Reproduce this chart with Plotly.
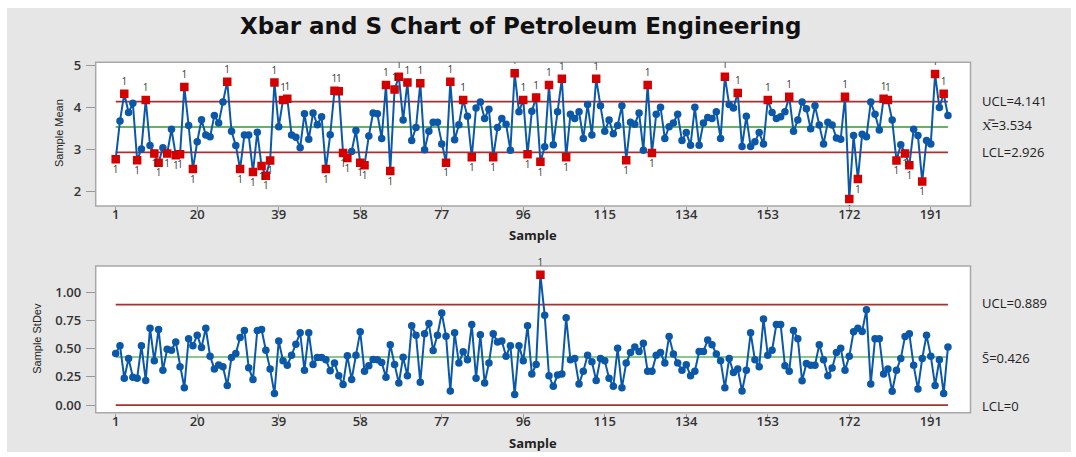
import plotly.graph_objects as go

W, H = 1076, 457

samples = list(range(1, 196))
sample_means = [
    2.76, 3.68, 4.33, 3.88, 4.10, 2.74, 3.01, 4.18, 3.09, 2.90,
    2.68, 3.04, 2.90, 3.48, 2.86, 2.88, 4.49, 3.57, 2.53, 3.18,
    3.71, 3.34, 3.30, 3.81, 3.63, 4.13, 4.62, 3.43, 3.09, 2.53,
    3.34, 3.34, 2.46, 3.41, 2.60, 2.37, 2.73, 4.60, 3.54, 4.18,
    4.21, 3.34, 3.29, 3.04, 3.85, 3.24, 3.87, 3.59, 3.78, 2.53,
    3.35, 4.40, 4.39, 2.91, 2.79, 2.95, 3.45, 2.68, 2.62, 3.32,
    3.87, 3.85, 3.26, 4.54, 2.48, 4.43, 4.74, 3.70, 4.60, 3.21,
    3.52, 4.58, 2.99, 3.43, 3.65, 3.65, 3.13, 2.68, 4.62, 3.23,
    3.59, 4.18, 3.79, 2.81, 3.99, 4.13, 3.74, 3.96, 2.81, 3.52,
    3.74, 3.60, 2.98, 4.82, 3.90, 4.18, 2.88, 3.91, 4.24, 2.70,
    3.06, 4.54, 3.11, 3.90, 4.69, 2.81, 3.84, 3.74, 3.90, 3.26,
    4.07, 3.34, 4.69, 4.04, 3.43, 3.70, 3.37, 3.57, 4.04, 2.74,
    3.65, 3.60, 3.87, 2.98, 4.54, 2.91, 3.84, 4.01, 3.26, 3.54,
    3.63, 3.84, 3.21, 3.40, 3.10, 4.01, 3.10, 3.63, 3.76, 3.74,
    3.90, 3.26, 4.74, 4.07, 3.99, 4.35, 3.07, 3.79, 3.07, 3.18,
    3.40, 3.13, 4.18, 3.88, 3.74, 3.78, 3.90, 4.26, 3.43, 3.70,
    4.13, 3.97, 3.49, 4.04, 3.58, 3.13, 3.65, 3.58, 3.27, 3.24,
    4.26, 1.81, 3.33, 2.29, 3.36, 3.30, 4.13, 3.84, 3.46, 4.21,
    4.18, 3.70, 2.73, 3.11, 2.90, 2.62, 3.48, 3.33, 2.23, 3.21,
    3.13, 4.80, 4.00, 4.33, 3.81,
]
sample_stdevs = [
    0.456, 0.526, 0.238, 0.413, 0.247, 0.238, 0.526, 0.218, 0.680, 0.392,
    0.669, 0.308, 0.494, 0.485, 0.558, 0.340, 0.154, 0.587, 0.526, 0.619,
    0.509, 0.680, 0.433, 0.320, 0.355, 0.340, 0.174, 0.422, 0.456, 0.599,
    0.660, 0.331, 0.227, 0.660, 0.669, 0.485, 0.320, 0.102, 0.567, 0.392,
    0.352, 0.442, 0.538, 0.640, 0.308, 0.640, 0.360, 0.422, 0.422, 0.401,
    0.305, 0.372, 0.259, 0.183, 0.436, 0.227, 0.442, 0.648, 0.299, 0.349,
    0.404, 0.401, 0.378, 0.247, 0.535, 0.360, 0.195, 0.424, 0.259, 0.701,
    0.619, 0.203, 0.631, 0.721, 0.483, 0.619, 0.814, 0.610, 0.125, 0.640,
    0.372, 0.471, 0.401, 0.712, 0.238, 0.622, 0.195, 0.372, 0.631, 0.558,
    0.567, 0.433, 0.526, 0.093, 0.526, 0.392, 0.701, 0.276, 0.360, 1.154,
    0.794, 0.259, 0.166, 0.267, 0.276, 0.773, 0.401, 0.413, 0.186, 0.299,
    0.442, 0.384, 0.218, 0.413, 0.392, 0.238, 0.166, 0.503, 0.154, 0.372,
    0.465, 0.515, 0.474, 0.547, 0.299, 0.299, 0.442, 0.465, 0.372, 0.608,
    0.453, 0.372, 0.308, 0.358, 0.259, 0.299, 0.474, 0.474, 0.576, 0.535,
    0.453, 0.392, 0.154, 0.413, 0.288, 0.320, 0.125, 0.308, 0.640, 0.401,
    0.340, 0.762, 0.442, 0.485, 0.712, 0.712, 0.349, 0.299, 0.660, 0.587,
    0.215, 0.369, 0.352, 0.352, 0.535, 0.401, 0.259, 0.328, 0.465, 0.503,
    0.308, 0.433, 0.648, 0.680, 0.651, 0.843, 0.186, 0.587, 0.587, 0.276,
    0.320, 0.122, 0.308, 0.413, 0.608, 0.631, 0.352, 0.142, 0.413, 0.619,
    0.433, 0.174, 0.401, 0.102, 0.515,
]
x_ucl, x_cl, x_lcl = 4.141, 3.534, 2.926
s_ucl, s_cl, s_lcl = 0.889, 0.426, 0.0
x_tick_vals = [1, 20, 39, 58, 77, 96, 115, 134, 153, 172, 191]
mean_tick_vals = [2, 3, 4, 5]
sd_tick_vals = [0.0, 0.25, 0.5, 0.75, 1.0]
sd_tick_text = ["0.00", "0.25", "0.50", "0.75", "1.00"]


def fx(px):
    return px / W


def fy(py):
    return 1 - py / H


BLUE = "#0b58a8"
RED = "#d40000"
LIMIT = "#a83030"
GREEN1 = "#2e9e2e"
GREEN2 = "#66b366"
FONT = "Open Sans"

fig = go.Figure()
label_traces = []


def add_chart(vals, ucl, cl, lcl, xa, ya, green):
    n_first, n_last = samples[0], samples[-1]
    for v, c in ((ucl, LIMIT), (lcl, LIMIT), (cl, green)):
        fig.add_trace(go.Scatter(x=[n_first, n_last], y=[v, v], mode="lines",
                                 line=dict(color=c, width=1.6), hoverinfo="skip",
                                 xaxis=xa, yaxis=ya, showlegend=False))
    fig.add_trace(go.Scatter(x=samples, y=vals, mode="lines+markers",
                             line=dict(color=BLUE, width=2),
                             marker=dict(symbol="circle", size=7.5, color=BLUE),
                             xaxis=xa, yaxis=ya, showlegend=False))
    up = [(s, v) for s, v in zip(samples, vals) if v > ucl]
    lo = [(s, v) for s, v in zip(samples, vals) if v < lcl]
    for pts, pos in ((up, "top center"), (lo, "bottom center")):
        if not pts:
            continue
        xs = [p[0] for p in pts]
        ys = [p[1] for p in pts]
        fig.add_trace(go.Scatter(x=xs, y=ys, mode="markers",
                                 marker=dict(symbol="square", size=8.5, color=RED),
                                 xaxis=xa, yaxis=ya, showlegend=False))
        label_traces.append(go.Scatter(x=xs, y=ys, mode="markers+text", text=["1"] * len(pts),
                                       textposition=pos,
                                       marker=dict(symbol="square", size=8.5,
                                                   color="rgba(0,0,0,0)"),
                                       textfont=dict(family=FONT, size=10, color="#3a3a3a"),
                                       hoverinfo="skip", cliponaxis=(xa == "x"),
                                       xaxis=xa, yaxis=ya, showlegend=False))


add_chart(sample_means, x_ucl, x_cl, x_lcl, "x", "y", GREEN1)
add_chart(sample_stdevs, s_ucl, s_cl, s_lcl, "x2", "y2", GREEN2)
for t in label_traces:
    fig.add_trace(t)

# plot frames (page pixel coordinates)
top_box = (95.7, 57, 970.5, 203)
bot_box = (95.7, 264, 970.5, 413)

shapes = [
    dict(type="rect", xref="paper", yref="paper", x0=fx(7), x1=fx(1071), y0=fy(453), y1=fy(2),
         fillcolor="#e6e6e6", line=dict(width=0), layer="below"),
]
for (l, t, r, b) in (top_box, bot_box):
    shapes.append(dict(type="rect", xref="paper", yref="paper", x0=fx(l), x1=fx(r),
                       y0=fy(b), y1=fy(t), fillcolor="white",
                       line=dict(color="#a8a8a8", width=1.5), layer="below"))

tickfont = dict(family=FONT, size=13, color="#333", weight=600)
xrange_ = [1 - (115.7 - 95.7) / 4.29, 1 + (970.5 - 115.7) / 4.29]

common = dict(showgrid=False, zeroline=False, showline=False,
              ticks="outside", tickcolor="#999", tickwidth=1.2, tickfont=tickfont)
xcommon = dict(ticklen=5, ticklabelstandoff=-8, **common)
ycommon = dict(ticklen=9, ticklabelstandoff=2, **common)

fig.update_layout(
    width=W, height=H,
    margin=dict(l=0, r=0, t=0, b=0),
    paper_bgcolor="white", plot_bgcolor="rgba(0,0,0,0)",
    shapes=shapes,
    xaxis=dict(domain=[fx(top_box[0]), fx(top_box[2])], range=xrange_,
               tickvals=x_tick_vals, anchor="y", **xcommon),
    yaxis=dict(domain=[fy(top_box[3]), fy(top_box[1])], range=[1.646, 5.087],
               tickvals=mean_tick_vals, anchor="x", **ycommon),
    xaxis2=dict(domain=[fx(bot_box[0]), fx(bot_box[2])], range=xrange_,
                tickvals=x_tick_vals, anchor="y2", **xcommon),
    yaxis2=dict(domain=[fy(bot_box[3]), fy(bot_box[1])], range=[-0.067, 1.231],
                tickvals=sd_tick_vals, ticktext=sd_tick_text, anchor="x2", **ycommon),
)


def note(text, px, py, size=13, family=FONT, xanchor="center", angle=0, color="#222"):
    return dict(text=text, x=fx(px), y=fy(py), xref="paper", yref="paper",
                xanchor=xanchor, yanchor="middle", textangle=angle, showarrow=False,
                font=dict(family=family, size=size, color=color))


ann = [note("<b>Xbar and S Chart of Petroleum Engineering</b>", 520, 20, size=23,
            family="DejaVu Sans", color="#111")]
for txt, py in (("UCL=4.141", 96), ("X\u033F=3.534", 121), ("LCL=2.926", 148),
                ("UCL=0.889", 302), ("S\u0304=0.426", 357), ("LCL=0", 406)):
    ann.append(note(txt, 980, py, xanchor="left"))
for py in (233, 444):
    ann.append(note("<b>Sample</b>", 533, py))
narrow = "Liberation Sans Narrow, Liberation Sans"
ann.append(note("Sample Mean", 59, 129, size=11, family=narrow, angle=-90))
ann.append(note("Sample StDev", 37, 338, size=11, family=narrow, angle=-90))
fig.update_layout(annotations=ann)

fig.write_html("out.html", config={"displayModeBar": False},
               post_script="document.body.style.margin='0';")
